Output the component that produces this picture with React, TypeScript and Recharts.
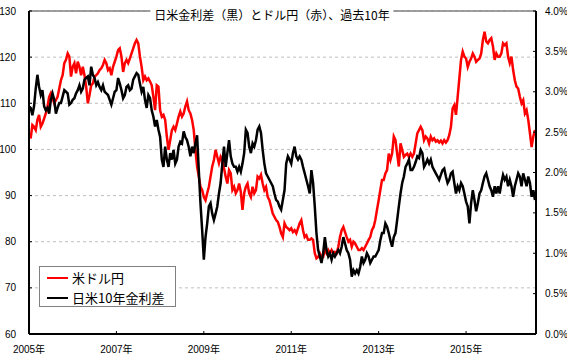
import React from 'react';
import {
  LineChart,
  Line,
  XAxis,
  YAxis,
  CartesianGrid,
  ReferenceLine,
} from 'recharts';

// biweekly samples (26 per year) starting Jan 2005
const usdJpy2005 = [
  103.5, 102.4, 105.3, 104.9, 104.2, 106.4, 107.5, 104.9, 105.6, 106.7, 107.8, 109.3, 111.4,
  112.2, 111.1, 110.0, 110.7, 111.4, 113.2, 115.0, 116.1, 118.7, 119.4, 120.8, 120.1, 115.8,
  117.9, 118.7, 116.5, 119.0, 117.9, 116.1, 117.9, 116.1, 113.6, 110.0, 111.8, 113.9, 114.3,
  115.8, 116.1, 116.5, 117.2, 117.6, 118.3, 119.4, 118.7, 117.2, 117.6, 116.1, 117.9, 119.0,
  120.1, 121.5, 121.9, 120.1, 116.8, 118.7, 119.4, 118.7, 119.7, 120.8, 121.9, 123.0, 123.7,
  123.0, 120.1, 117.9, 115.0, 115.8, 115.0, 115.4, 114.7, 113.9, 111.4, 108.5,
];
const usdJpy2008 = [
  113.9, 113.6, 108.5, 107.1, 107.5, 106.4, 102.8, 99.9, 102.0, 104.2, 104.9, 104.2, 105.6,
  107.1, 108.2, 107.1, 107.8, 109.3, 110.4, 108.5, 107.8, 106.4, 104.2, 99.9, 96.3, 94.1,
  91.9, 91.2, 89.7, 89.0, 90.5, 91.9, 94.1, 96.3, 97.7, 99.9, 98.4, 97.0, 98.4, 97.7, 95.9,
  94.1, 92.6, 95.5, 94.8, 91.2, 91.9, 90.5, 91.2, 92.6, 90.8, 86.9, 90.5, 91.9, 92.6, 90.5,
  89.7, 91.9, 90.5, 91.2, 94.1, 93.7, 94.5, 92.6, 91.2, 91.9, 89.7, 89.0, 87.6, 86.1, 85.4,
  84.7, 84.3, 83.2, 81.8, 81.0,
];
const usdJpy2010 = [
  84.0, 83.2, 82.9, 82.5, 82.9, 82.1, 82.5, 81.8, 82.9, 84.0, 84.7, 82.5, 81.0, 81.4, 80.4,
  80.4, 80.7, 80.4, 77.5, 76.4, 76.7, 77.5, 76.7, 76.7, 78.2, 77.5, 78.2, 77.5, 78.2, 77.5,
  77.8, 77.5, 78.9, 81.0, 82.5, 83.2, 82.1, 81.0, 80.0, 80.4, 78.9, 80.0, 79.6, 78.9, 78.2,
  78.2, 78.6, 78.2, 78.9, 79.6, 80.4, 81.0, 82.5, 83.2, 84.7, 86.9, 89.0, 91.2, 93.4, 93.4,
  94.8, 95.5, 99.1, 97.7, 99.1, 102.8, 102.0, 99.1, 96.3, 101.3, 99.9, 98.4, 98.8, 99.1,
  98.4, 99.1,
];
const usdJpy2013 = [
  98.4, 99.1, 101.3, 103.5, 104.2, 104.9, 104.2, 102.0, 102.8, 102.4, 101.3, 102.8, 102.0,
  102.4, 101.7, 102.0, 101.5, 101.9, 101.3, 102.0, 101.5, 102.0, 103.1, 104.9, 108.9, 109.6,
  107.5, 111.4, 115.4, 119.4, 121.2, 120.1, 119.7, 117.9, 119.0, 119.7, 120.8, 120.1, 119.0,
  119.4, 119.7, 120.8, 123.7, 125.5, 123.4, 123.0, 123.7, 124.1, 122.3, 119.4, 120.8, 120.1,
  120.1, 120.8, 123.0, 122.6, 123.0, 120.1, 118.7, 120.1, 117.2, 115.0, 113.6, 113.2, 111.4,
  110.0, 110.7, 107.8, 108.5, 106.4, 103.5, 100.5, 102.8, 104.2,
];

const spread2005 = [
  2.82, 2.8, 2.71, 2.82, 3.04, 3.21, 3.06, 2.96, 3.02, 2.82, 2.77, 2.8, 2.73, 2.9, 2.98, 2.9,
  2.73, 2.8, 2.86, 2.86, 2.94, 3.02, 3.0, 2.98, 2.84, 2.86, 2.9, 2.92, 2.98, 3.02, 3.08, 3.0,
  3.04, 3.15, 3.17, 3.19, 3.08, 3.31, 3.21, 3.17, 3.08, 3.12, 3.06, 3.02, 3.08, 3.0, 2.98,
  2.96, 2.9, 2.84, 2.92, 3.0, 3.02, 3.17, 3.1, 3.02, 2.92, 2.96, 3.06, 3.08, 3.02, 3.04, 3.15,
  3.19, 3.23, 3.21, 3.1, 3.0, 3.06, 2.9, 2.8, 2.96, 2.92, 2.77, 2.69, 2.57,
];
const spread2008 = [
  2.65, 2.53, 2.44, 2.16, 2.07, 2.32, 2.16, 2.07, 2.24, 2.16, 2.28, 2.11, 2.16, 2.32, 2.38,
  2.36, 2.51, 2.44, 2.4, 2.32, 2.2, 2.32, 2.24, 2.36, 2.46, 2.03, 1.62, 1.29, 0.92, 1.2, 1.37,
  1.58, 1.62, 1.49, 1.41, 1.49, 1.58, 1.74, 1.87, 2.11, 2.32, 2.07, 2.24, 2.4, 2.2, 2.11,
  2.07, 2.07, 2.01, 2.07, 2.01, 2.11, 2.24, 2.53, 2.49, 2.32, 2.24, 2.36, 2.32, 2.4, 2.53,
  2.57, 2.49, 2.28, 2.11, 1.99, 1.95, 1.91, 1.87, 1.83, 1.74, 1.66, 1.64, 1.58, 1.54, 1.66,
];
const spread2010 = [
  1.78, 2.11, 2.2, 2.16, 2.11, 2.24, 2.32, 2.2, 2.16, 2.2, 2.16, 2.07, 1.99, 1.91, 1.83, 1.74,
  2.03, 1.87, 1.58, 1.25, 1.04, 0.96, 0.88, 1.0, 1.2, 1.04, 0.96, 1.0, 0.92, 1.0, 0.96, 1.0,
  1.04, 1.0, 1.08, 1.2, 1.12, 1.04, 1.0, 0.92, 0.71, 0.79, 0.75, 0.79, 0.75, 0.83, 0.96, 0.88,
  0.92, 1.0, 0.96, 0.88, 0.92, 0.96, 0.96, 1.0, 1.04, 1.16, 1.25, 1.25, 1.37, 1.33, 1.25,
  1.16, 1.08, 1.2, 1.25, 1.41, 1.58, 1.74, 1.87, 1.95, 2.07, 2.11, 2.16, 2.03,
];
const spread2013 = [
  2.03, 2.07, 2.13, 2.2, 2.18, 2.28, 2.24, 2.07, 2.11, 2.16, 2.11, 2.16, 2.07, 2.03, 1.99,
  1.95, 1.91, 1.97, 2.03, 2.05, 1.95, 1.87, 1.91, 1.99, 2.01, 1.87, 1.74, 1.83, 1.78, 1.87,
  1.83, 1.74, 1.64, 1.58, 1.37, 1.62, 1.78, 1.66, 1.52, 1.62, 1.74, 1.78, 1.87, 1.95, 1.99,
  1.91, 1.83, 1.78, 1.7, 1.83, 1.74, 1.83, 1.74, 1.87, 1.97, 1.91, 1.95, 1.83, 1.91, 1.83, 1.7,
  1.83, 1.91, 1.99, 1.95, 1.83, 1.99, 1.91, 1.83, 1.95, 1.87, 1.7, 1.78, 1.66,
];

const usdJpy = [...usdJpy2005, ...usdJpy2008, ...usdJpy2010, ...usdJpy2013];
const spread = [...spread2005, ...spread2008, ...spread2010, ...spread2013];

const yearTicks = [2005, 2007, 2009, 2011, 2013, 2015];
const yenTicks = [60, 70, 80, 90, 100, 110, 120, 130];
const spreadTicks = [0, 0.5, 1, 1.5, 2, 2.5, 3, 3.5, 4];

const title = '日米金利差（黒）とドル円（赤）、過去10年';
const yenName = '米ドル円';
const spreadName = '日米10年金利差';

const data = usdJpy.map((v, i) => ({ t: 2005 + i / 26, yen: v, spread: spread[i] }));

const tickStyle = { fill: '#000', fontSize: 10, fontFamily: 'Liberation Sans, Arial, "Noto Sans CJK JP"' };
const jpFont = '"Noto Sans CJK JP", "Noto Sans", sans-serif';

export default function App() {
  return (
    <div style={{ position: 'absolute', left: 0, top: 0, width: 567, height: 360, background: '#fff' }}>
      <LineChart width={567} height={360} data={data} margin={{ top: 11, right: 0, bottom: 0, left: 0 }}>
        <CartesianGrid
          yAxisId="left"
          vertical={false}
          stroke="#bfbfbf"
          strokeDasharray="3 3"
        />
        <XAxis
          dataKey="t"
          type="number"
          domain={[2005, 2016.6]}
          ticks={yearTicks}
          allowDataOverflow
          height={26}
          tickFormatter={(v) => `${v}年`}
          tick={tickStyle}
          tickSize={-3}
          tickMargin={15}
          axisLine={{ stroke: '#000', strokeWidth: 2 }}
          tickLine={{ stroke: '#000' }}
        />
        <YAxis
          yAxisId="left"
          domain={[60, 130]}
          ticks={yenTicks}
          width={29}
          tick={tickStyle}
          tickSize={-3}
          tickMargin={16}
          axisLine={{ stroke: '#000', strokeWidth: 2 }}
          tickLine={{ stroke: '#000' }}
        />
        <YAxis
          yAxisId="right"
          orientation="right"
          domain={[0, 4]}
          ticks={spreadTicks}
          width={31}
          tick={tickStyle}
          tickSize={-3}
          tickMargin={12}
          tickFormatter={(v) => `${v.toFixed(1)}%`}
          axisLine={{ stroke: '#000', strokeWidth: 2 }}
          tickLine={{ stroke: '#000' }}
        />
        <ReferenceLine yAxisId="left" y={130} stroke="#808080" strokeWidth={1.5} />
        <Line
          yAxisId="left"
          dataKey="yen"
          name={yenName}
          stroke="#ff0000"
          strokeWidth={2.5}
          dot={false}
          type="linear"
          isAnimationActive={false}
        />
        <Line
          yAxisId="right"
          dataKey="spread"
          name={spreadName}
          stroke="#000"
          strokeWidth={2.5}
          dot={false}
          type="linear"
          isAnimationActive={false}
        />
      </LineChart>
      <div
        style={{
          position: 'absolute',
          left: 272,
          top: 7,
          transform: 'translateX(-50%)',
          background: '#fff',
          padding: '0 4px',
          fontFamily: jpFont,
          fontSize: 12,
          lineHeight: '16px',
          whiteSpace: 'nowrap',
          color: '#000',
        }}
      >
        {title}
      </div>
      <div
        style={{
          position: 'absolute',
          left: 39,
          top: 266,
          width: 135,
          height: 39,
          border: '1px solid #808080',
          background: '#fff',
          fontFamily: jpFont,
          fontSize: 13,
          color: '#000',
        }}
      >
        {[
          { name: yenName, color: '#ff0000', top: 2 },
          { name: spreadName, color: '#000', top: 22 },
        ].map((item) => (
          <div
            key={item.name}
            style={{ position: 'absolute', left: 0, top: item.top, height: 18, display: 'flex', alignItems: 'center' }}
          >
            <span style={{ display: 'inline-block', marginLeft: 7, width: 21, height: 2, background: item.color }} />
            <span style={{ marginLeft: 4, lineHeight: '18px', whiteSpace: 'nowrap' }}>{item.name}</span>
          </div>
        ))}
      </div>
    </div>
  );
}
